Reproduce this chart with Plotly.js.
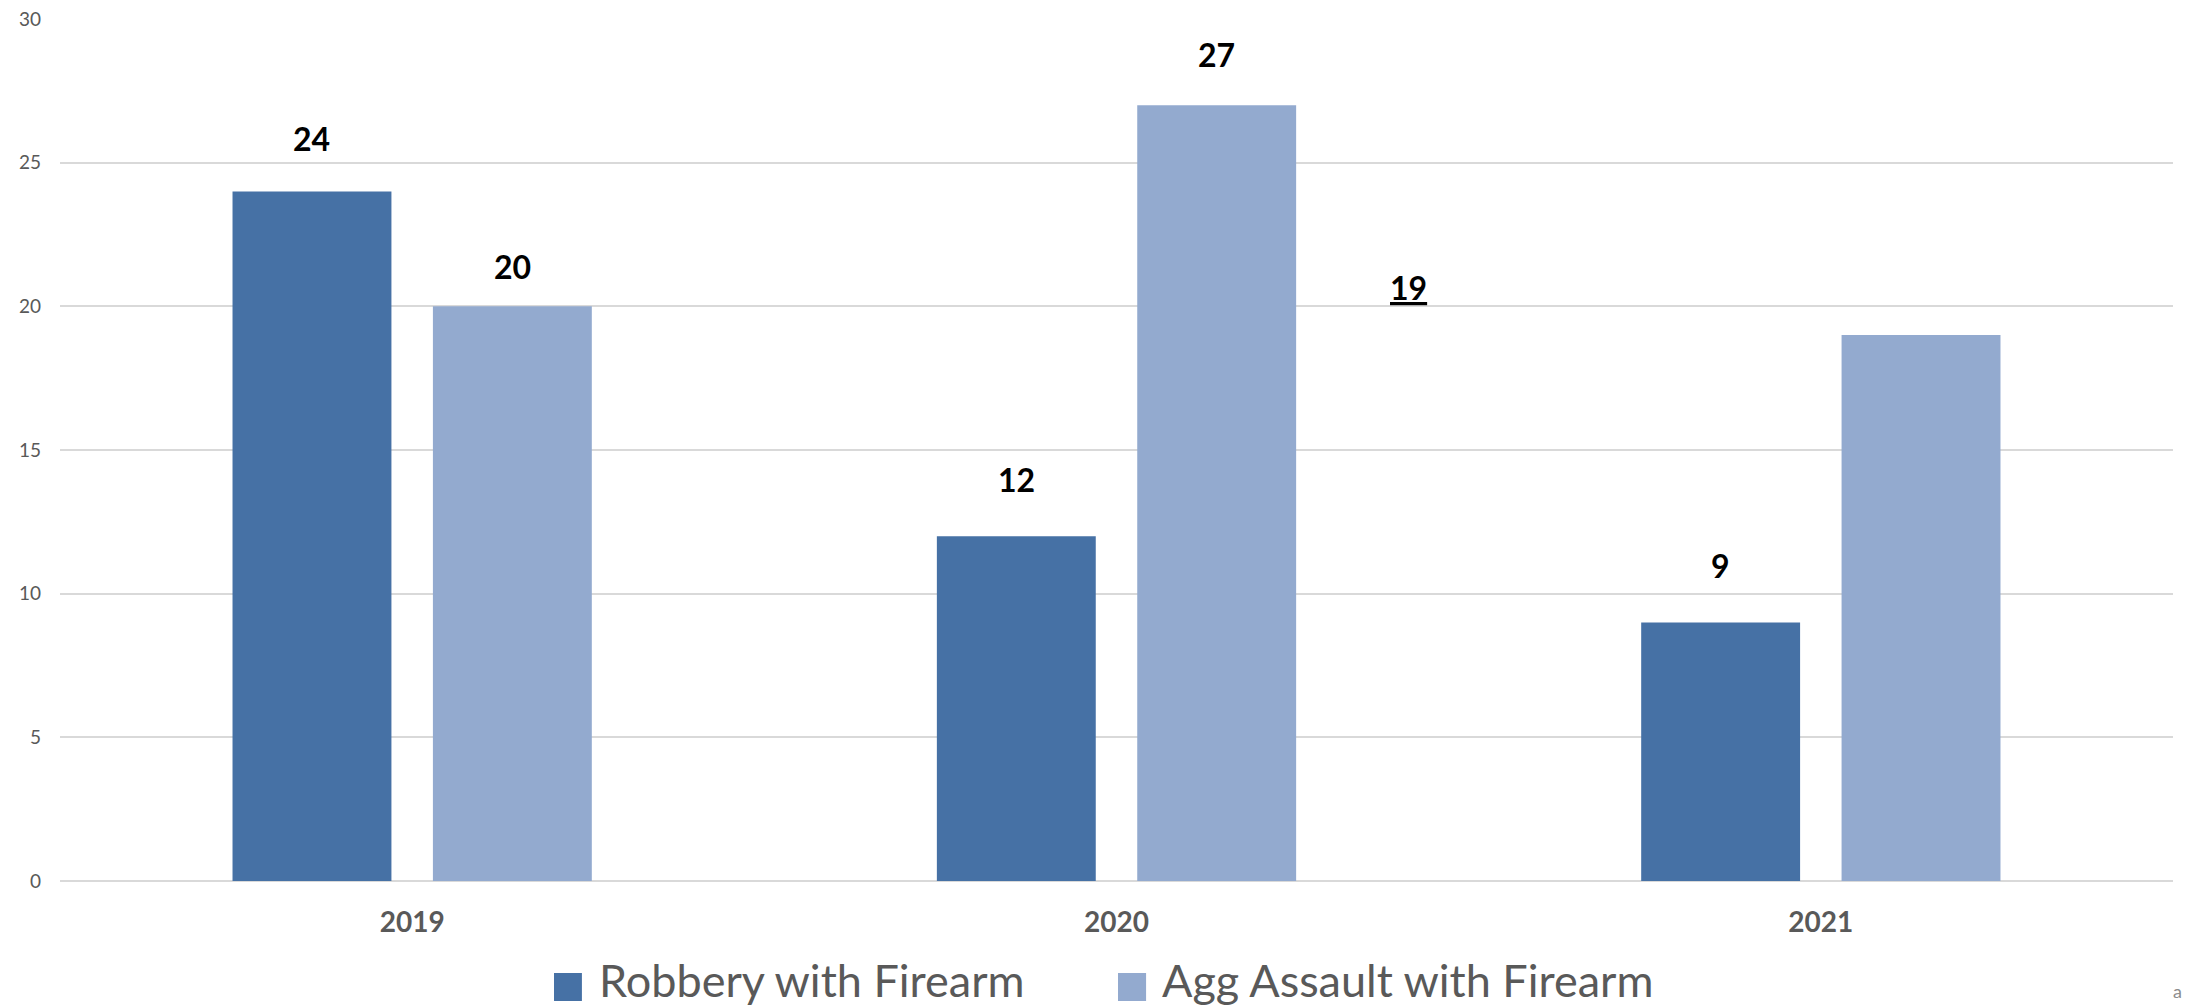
<!DOCTYPE html>
<html>
<head>
<meta charset="utf-8">
<script src="https://cdn.plot.ly/plotly-3.0.1.min.js"></script>
<style>
html,body{margin:0;padding:0;background:#fff;}
#chart{width:2186px;height:1007px;}
</style>
</head>
<body>
<div id="chart"></div>
<script>
// ---- data ----
const categories = ["2019", "2020", "2021"];
const seriesNames = ["Robbery with Firearm", "Agg Assault with Firearm"];
const robbery = [24, 12, 9];
const aggAssault = [20, 27, 19];
const yTicks = [0, 5, 10, 15, 20, 25, 30];

// ---- styles ----
const colors = ["#4671A5", "#93AACF"];
const FONT = "Lato, 'Open Sans', 'Noto Sans', sans-serif";
const grey = "#595959";

const seriesValues = [robbery, aggAssault];

const traces = seriesValues.map((vals, s) => ({
  type: "bar",
  name: seriesNames[s],
  x: categories,
  y: vals,
  marker: {color: colors[s]},
  hoverinfo: "x+y+name",
  showlegend: false
}));

// group geometry (in category units) used for label placement
const bargap = 0.431, bargroupgap = 0.207;
const slot = (1 - bargap) / 2;
const offsets = [-slot / 2, slot / 2];
// label vertical offsets (px above bar top) as placed in the original
const labelShift = [[53, 57, 57], [40, 51, 48]];

const annotations = [];
seriesValues.forEach((vals, s) => {
  vals.forEach((v, i) => {
    // the 2021 Agg Assault label was dragged away from its bar in the original
    const moved = (s === 1 && i === 2);
    annotations.push({
      xref: "x", yref: "y",
      x: moved ? 1.414 : i + offsets[s],
      y: v,
      text: moved ? "<u>" + v + "</u>" : String(v),
      showarrow: false,
      yanchor: "middle",
      yshift: labelShift[s][i],
      font: {family: FONT, size: 32, color: "#000000", weight: 700}
    });
  });
});

// custom legend (large square swatches like the original)
const legendX = [[0.2338, 0.2470, 0.2541], [0.5007, 0.5140, 0.5206]];
const shapes = [];
seriesNames.forEach((name, s) => {
  shapes.push({
    type: "rect", xref: "paper", yref: "paper",
    x0: legendX[s][0], x1: legendX[s][1], y0: -0.1392, y1: -0.1067,
    fillcolor: colors[s], line: {width: 0}
  });
  annotations.push({
    xref: "paper", yref: "paper",
    x: legendX[s][2], y: -0.1145, xanchor: "left", yanchor: "middle",
    text: name, showarrow: false,
    font: {family: FONT, size: 45, color: grey}
  });
});

// stray glyph at the bottom-right corner of the original
annotations.push({
  xref: "paper", yref: "paper", x: 1.0050, y: -0.1430,
  xanchor: "right", yanchor: "bottom", text: "a", showarrow: false,
  font: {family: FONT, size: 18, color: "#8c8c8c"}
});

const layout = {
  width: 2186, height: 1007,
  margin: {l: 60, r: 13, t: 19, b: 126, pad: 0},
  paper_bgcolor: "#ffffff", plot_bgcolor: "#ffffff",
  barmode: "group",
  bargap: bargap, bargroupgap: bargroupgap,
  showlegend: false,
  xaxis: {
    type: "category",
    tickvals: categories,
    ticktext: categories,
    showgrid: false, zeroline: false, showline: false,
    ticks: "",
    ticklabelstandoff: 22,
    tickfont: {family: FONT, size: 28, color: grey, weight: 700}
  },
  yaxis: {
    range: [0, 30],
    tickvals: yTicks,
    ticktext: yTicks.map(String),
    showgrid: true, gridcolor: "#D9D9D9", gridwidth: 2,
    zeroline: true, zerolinecolor: "#D9D9D9", zerolinewidth: 2,
    showline: false, ticks: "",
    ticklabelstandoff: 18,
    tickfont: {family: FONT, size: 19, color: grey}
  },
  annotations: annotations,
  shapes: shapes
};

Plotly.newPlot("chart", traces, layout, {displayModeBar: false, staticPlot: true});
</script>
</body>
</html>
